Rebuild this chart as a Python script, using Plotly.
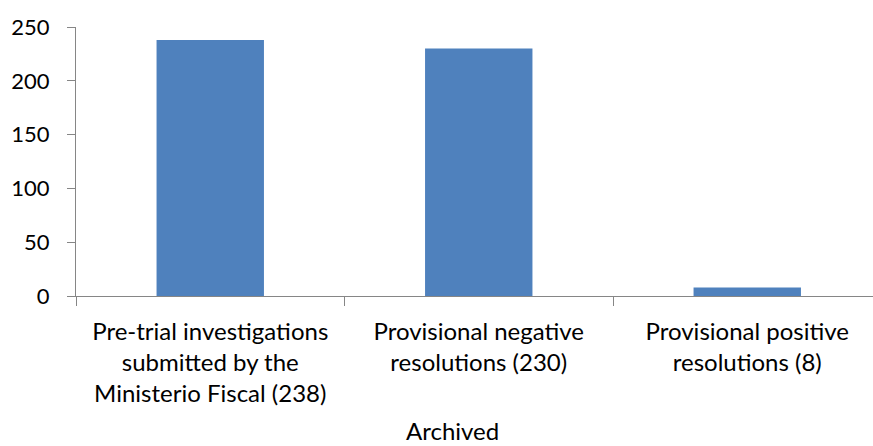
import plotly.graph_objects as go

categories = [
    "Pre-trial investigations<br>submitted by the<br>Ministerio Fiscal (238)",
    "Provisional negative<br>resolutions (230)",
    "Provisional positive<br>resolutions (8)",
]
values = [238, 230, 8]
y_ticks = [0, 50, 100, 150, 200, 250]
x_title = "Archived"

W, H = 873, 446
L, R, T, B = 76, 0, 26.5, 149.5
cat_px = 268.5
x_end = -0.5 + (W - L - R) / cat_px

FONT = "Lato"
AX = "#868686"

fig = go.Figure(
    go.Bar(
        x=list(range(len(values))),
        y=values,
        width=0.4,
        marker=dict(color="#4F81BD", line=dict(width=0)),
    )
)

fig.update_layout(
    width=W,
    height=H,
    margin=dict(l=L, r=R, t=T, b=B, pad=0),
    paper_bgcolor="white",
    plot_bgcolor="white",
    showlegend=False,
    font=dict(family=FONT, size=24, color="#000000"),
    xaxis=dict(
        type="linear",
        range=[-0.5, x_end],
        tickmode="array",
        tickvals=list(range(len(categories))),
        ticktext=categories,
        ticks="",
        showline=True,
        linecolor=AX,
        linewidth=1,
        showgrid=False,
        zeroline=False,
        tickfont=dict(family=FONT, size=24, color="#000000"),
        ticklabelstandoff=14,
    ),
    yaxis=dict(
        range=[0, 250],
        tickmode="array",
        tickvals=y_ticks,
        ticks="outside",
        ticklen=8,
        tickcolor=AX,
        showline=True,
        linecolor=AX,
        linewidth=1,
        showgrid=False,
        zeroline=False,
        tickfont=dict(family=FONT, size=22, color="#000000"),
        ticklabelstandoff=13,
    ),
    annotations=[
        dict(
            text=x_title,
            xref="paper",
            yref="paper",
            x=(452.5 - L) / (W - L - R),
            y=(296.5 - 431) / (H - T - B),
            xanchor="center",
            yanchor="middle",
            showarrow=False,
            font=dict(family=FONT, size=24, color="#000000"),
        )
    ],
)

# boundary tick marks on the category axis, drawn as an axis-linked overlay
fig.update_layout(
    xaxis2=dict(
        overlaying="x",
        matches="x",
        side="bottom",
        tickmode="array",
        tickvals=[b - 0.5 for b in range(len(categories) + 1)],
        ticktext=[""] * (len(categories) + 1),
        ticks="outside",
        ticklen=9,
        tickcolor=AX,
        showline=False,
        showgrid=False,
        zeroline=False,
        anchor="y",
    )
)
fig.add_trace(go.Scatter(x=[0], y=[0], xaxis="x2", mode="markers", marker=dict(opacity=0), hoverinfo="skip", showlegend=False))

fig.write_html("out.html")
